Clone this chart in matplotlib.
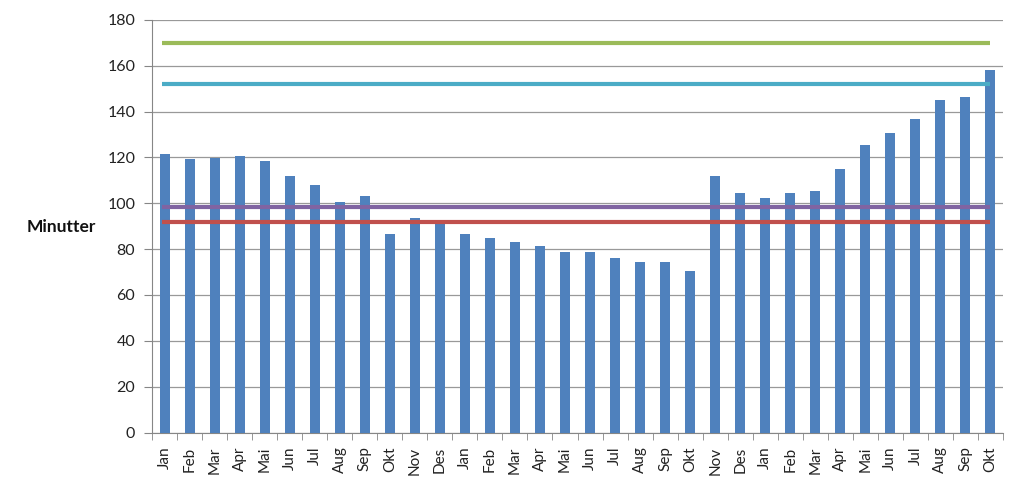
import matplotlib
matplotlib.use("Agg")
import matplotlib.pyplot as plt
import numpy as np

months = ["Jan", "Feb", "Mar", "Apr", "Mai", "Jun", "Jul", "Aug", "Sep", "Okt", "Nov", "Des",
          "Jan", "Feb", "Mar", "Apr", "Mai", "Jun", "Jul", "Aug", "Sep", "Okt", "Nov", "Des",
          "Jan", "Feb", "Mar", "Apr", "Mai", "Jun", "Jul", "Aug", "Sep", "Okt"]
minutter = [121.5, 119.2, 119.8, 120.7, 118.5, 112.1, 108.2, 100.7, 103.1, 86.8, 93.5, 91.2,
            86.8, 84.9, 83.3, 81.4, 78.9, 78.9, 76.3, 74.3, 74.3, 70.6, 112.1, 104.3,
            102.2, 104.7, 105.4, 114.9, 125.5, 130.6, 136.6, 145.3, 146.5, 158.0]
line_green = 170
line_cyan = 152
line_purple = 98.2
line_red = 91.7

plt.rcParams['font.family'] = ['Lato', 'DejaVu Sans']

fig = plt.figure(figsize=(10.24, 4.88), dpi=100)
ax = fig.add_axes([152/1024, 1 - 432.5/488, (1003 - 152)/1024, (432.5 - 20)/488])

x = np.arange(len(months))
ax.bar(x, minutter, width=0.4, color="#4F81BD", zorder=3)

for val, col in [(line_green, "#9BBB59"), (line_cyan, "#4BACC6"),
                 (line_purple, "#8064A2"), (line_red, "#C0504D")]:
    ax.plot([x[0] - 0.1, x[-1]], [val, val], color=col, lw=3, zorder=4, solid_capstyle='butt')

ax.set_xlim(-0.5, len(months) - 0.5)
ax.set_ylim(0, 180)
ax.set_yticks(np.arange(0, 181, 20))
ax.yaxis.grid(True, color="#999999", lw=0.9, zorder=0)
ax.set_axisbelow(True)

ax.set_xticks(x)
ax.set_xticklabels(months, rotation=90, fontsize=11, color="#222222")
ax.set_xticks(np.arange(-0.5, len(months), 1), minor=True)
ax.tick_params(axis='x', which='major', length=0, pad=10)
ax.tick_params(axis='x', which='minor', length=5, color="#868686", direction='out')
ax.tick_params(axis='y', length=6, color="#868686", labelsize=11.5, labelcolor="#222222", pad=6)

for s in ["top", "right"]:
    ax.spines[s].set_visible(False)
for s in ["left", "bottom"]:
    ax.spines[s].set_color("#868686")

fig.text(61/1024, 1 - 227/488, "Minutter", fontsize=12.5, fontweight='bold',
         ha='center', va='center', color="#111111")

fig.savefig("out.png", dpi=100)
